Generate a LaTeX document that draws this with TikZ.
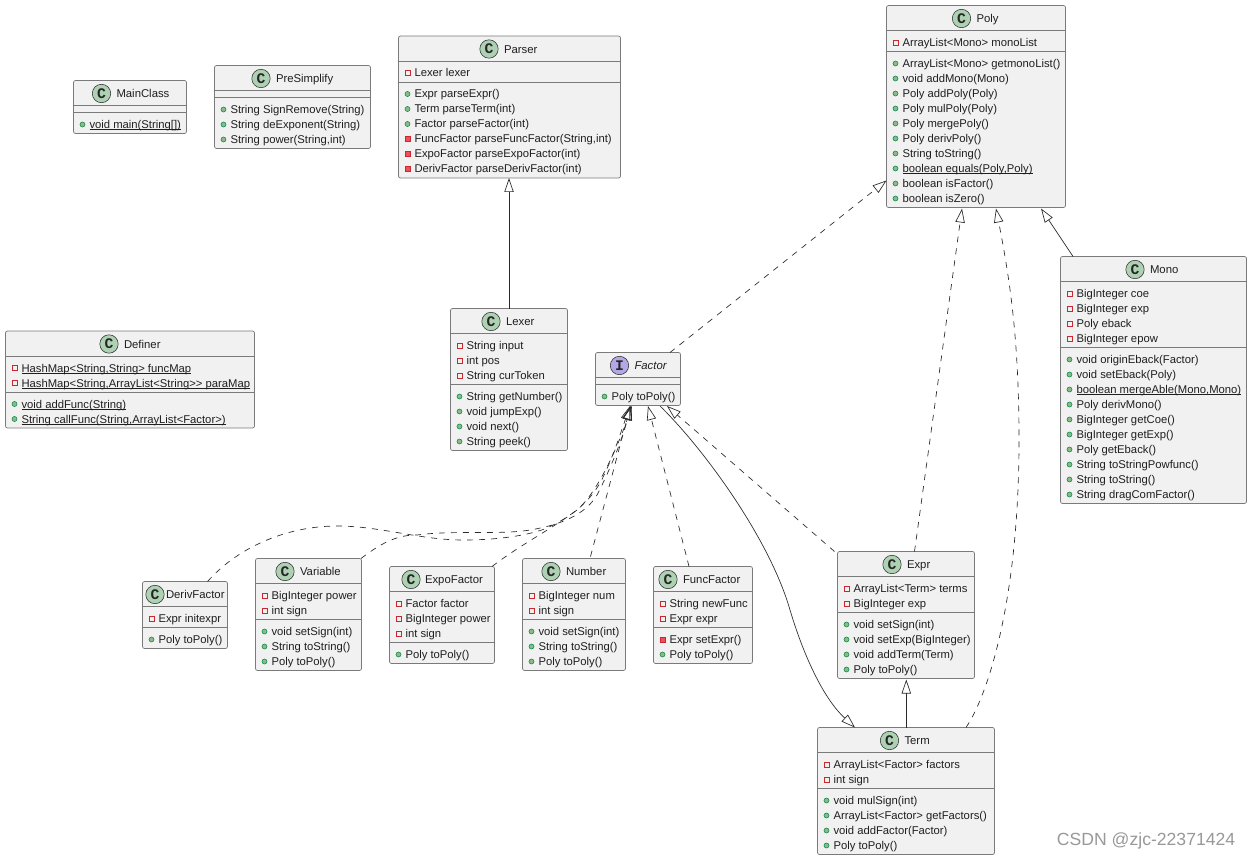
\documentclass[tikz,border=0pt]{standalone}
\usepackage{fontspec}
\setmainfont{Liberation Sans}
\newfontfamily\badgefont{Liberation Mono}
\usetikzlibrary{arrows.meta,calc}
\definecolor{boxfill}{HTML}{F1F1F1}
\definecolor{boxline}{HTML}{7A7A7A}
\definecolor{linkc}{HTML}{2A2A2A}
\definecolor{classc}{HTML}{ADD1B2}
\definecolor{ifacec}{HTML}{B4A7E5}
\definecolor{pubfill}{HTML}{84BE84}
\definecolor{publine}{HTML}{038048}
\definecolor{privc}{HTML}{C82930}
\definecolor{privfill}{HTML}{F24D5C}
\tikzset{
  umlbox/.style={draw=boxline,fill=boxfill,line width=0.55pt,rounded corners=1.5pt,inner sep=0pt,outer sep=0pt,anchor=north west},
  umlsep/.style={draw=boxline,line width=0.55pt},
  rowtext/.style={anchor=base west,inner sep=0pt,outer sep=0pt,font=\fontsize{8.45}{10}\selectfont,text=black!88},
  titletext/.style={anchor=base west,inner sep=0pt,outer sep=0pt,font=\fontsize{8.5}{10}\selectfont,text=black!88},
  badge/.style={circle,draw=linkc,line width=0.4pt,minimum size=13.8pt,inner sep=0pt,font=\badgefont\fontsize{11}{11}\selectfont\bfseries,text=black!85},
  pubm/.style={circle,draw=publine,fill=pubfill,line width=0.35pt,minimum size=3.8pt,inner sep=0pt},
  privf/.style={rectangle,draw=privc,fill=boxfill,line width=0.5pt,minimum size=3.6pt,inner sep=0pt},
  privm/.style={rectangle,draw=privc,fill=privfill,line width=0.5pt,minimum size=3.6pt,inner sep=0pt},
  link/.style={draw=linkc,line width=0.5pt},
  dashlink/.style={link,dash pattern=on 4.5pt off 4.5pt},
  hollow/.style={-{Triangle[open,length=10.5pt,width=7pt,line width=0.5pt]}},
}
\newcount\rowno
\newcommand\ulrow[1]{\setbox0=\hbox{#1}\leavevmode\rlap{\rule[-1.1pt]{\wd0}{0.4pt}}\box0 }
\def\titlegap{15}
\newcommand\umlclass[9]{%
  \pgfmathsetmacro\hA{#5>0?15*#5+6:7}%
  \pgfmathsetmacro\hB{#6>0?15*#6+6:7}%
  \pgfmathsetmacro\bw{#3-#2}%
  \pgfmathsetmacro\bh{25+\hA+\hB}%
  \xdef\curid{#1}\xdef\curx{#2}%
  \pgfmathsetmacro\yA{#4+25}%
  \pgfmathsetmacro\yB{#4+25+\hA}%
  \pgfmathsetmacro\yF{#4+25+12}%
  \pgfmathsetmacro\yM{\yB+12}%
  \xdef\fy{\yF}\xdef\my{\yM}%
  \global\rowno=0
  \node[umlbox,minimum width=\bw*0.75pt,minimum height=\bh*0.75pt] (#1) at (#2,#4) {};
  \draw[umlsep] (#2,\yA) -- (#3,\yA);
  \draw[umlsep] (#2,\yB) -- (#3,\yB);
  \pgfmathsetmacro\yC{#4+13}%
  \pgfmathsetmacro\yT{#4+17.3}%
  \pgfmathsetmacro\xT{#9+\titlegap}%
  \if#7C\def\badgecol{classc}\else\def\badgecol{ifacec}\fi
  \node[badge,fill=\badgecol] (#1-badge) at (#9,\yC) {#7};
  \node[titletext] (#1-title) at (\xT,\yT) {#8};
}
\newcommand\placerow[3]{% marker style, y macro, text
  \global\advance\rowno by 1
  \pgfmathsetmacro\xM{\curx+9}%
  \pgfmathsetmacro\xR{\curx+16}%
  \pgfmathsetmacro\yR{#2+4}%
  \node[#1] (\curid-m\the\rowno) at (\xM,#2) {};
  \node[rowtext] (\curid-t\the\rowno) at (\xR,\yR) {#3};
}
\newcommand\fld[1]{\placerow{privf}{\fy}{#1}\pgfmathsetmacro\tmpy{\fy+15}\xdef\fy{\tmpy}}
\newcommand\mth[1]{\placerow{pubm}{\my}{#1}\pgfmathsetmacro\tmpy{\my+15}\xdef\my{\tmpy}}
\newcommand\pmt[1]{\placerow{privm}{\my}{#1}\pgfmathsetmacro\tmpy{\my+15}\xdef\my{\tmpy}}
\begin{document}
\begin{tikzpicture}[x=0.75pt,y=-0.75pt]
\useasboundingbox (0,0) rectangle (1251,859);
\fill[white] (0,0) rectangle (1251,859);

\umlclass{mainclass}{73.5}{186.5}{80.5}{0}{1}{C}{MainClass}{101.5}
\mth{\ulrow{void main(String[])}}

\umlclass{presimplify}{214.5}{370.5}{65.5}{0}{3}{C}{PreSimplify}{261}
\mth{String SignRemove(String)}
\mth{String deExponent(String)}
\mth{String power(String,int)}

\umlclass{parser}{398.5}{620.5}{36}{1}{6}{C}{Parser}{489}
\fld{Lexer lexer}
\mth{Expr parseExpr()}
\mth{Term parseTerm(int)}
\mth{Factor parseFactor(int)}
\pmt{FuncFactor parseFuncFactor(String,int)}
\pmt{ExpoFactor parseExpoFactor(int)}
\pmt{DerivFactor parseDerivFactor(int)}

\umlclass{poly}{886.5}{1065.5}{5.5}{1}{10}{C}{Poly}{961.5}
\fld{ArrayList<Mono> monoList}
\mth{ArrayList<Mono> getmonoList()}
\mth{void addMono(Mono)}
\mth{Poly addPoly(Poly)}
\mth{Poly mulPoly(Poly)}
\mth{Poly mergePoly()}
\mth{Poly derivPoly()}
\mth{String toString()}
\mth{\ulrow{boolean equals(Poly,Poly)}}
\mth{boolean isFactor()}
\mth{boolean isZero()}

\umlclass{mono}{1060.5}{1246.5}{256.5}{4}{10}{C}{Mono}{1135}
\fld{BigInteger coe}
\fld{BigInteger exp}
\fld{Poly eback}
\fld{BigInteger epow}
\mth{void originEback(Factor)}
\mth{void setEback(Poly)}
\mth{\ulrow{boolean mergeAble(Mono,Mono)}}
\mth{Poly derivMono()}
\mth{BigInteger getCoe()}
\mth{BigInteger getExp()}
\mth{Poly getEback()}
\mth{String toStringPowfunc()}
\mth{String toString()}
\mth{String dragComFactor()}

\umlclass{definer}{5.5}{254.5}{331}{2}{2}{C}{Definer}{109}
\fld{\ulrow{HashMap<String,String> funcMap}}
\fld{\ulrow{HashMap<String,ArrayList<String>{}> paraMap}}
\mth{\ulrow{void addFunc(String)}}
\mth{\ulrow{String callFunc(String,ArrayList<Factor>)}}

\umlclass{lexer}{450.5}{567.5}{308.5}{3}{4}{C}{Lexer}{491}
\fld{String input}
\fld{int pos}
\fld{String curToken}
\mth{String getNumber()}
\mth{void jumpExp()}
\mth{void next()}
\mth{String peek()}

\umlclass{factor}{595.5}{680.5}{352.5}{0}{1}{I}{\itshape Factor}{619.5}
\mth{Poly toPoly()}

\def\titlegap{11}
\umlclass{derivfactor}{142.5}{227.5}{581.5}{1}{1}{C}{DerivFactor}{155}
\fld{Expr initexpr}
\mth{Poly toPoly()}
\def\titlegap{15}

\umlclass{variable}{255.5}{361.5}{558.5}{2}{3}{C}{Variable}{285}
\fld{BigInteger power}
\fld{int sign}
\mth{void setSign(int)}
\mth{String toString()}
\mth{Poly toPoly()}

\def\titlegap{14}
\umlclass{expofactor}{389.5}{494.5}{566.5}{3}{1}{C}{ExpoFactor}{411}
\fld{Factor factor}
\fld{BigInteger power}
\fld{int sign}
\mth{Poly toPoly()}
\def\titlegap{15}

\umlclass{number}{522.5}{625.5}{558.5}{2}{3}{C}{Number}{551}
\fld{BigInteger num}
\fld{int sign}
\mth{void setSign(int)}
\mth{String toString()}
\mth{Poly toPoly()}

\umlclass{funcfactor}{653.5}{752.5}{566.5}{2}{2}{C}{FuncFactor}{668}
\fld{String newFunc}
\fld{Expr expr}
\pmt{Expr setExpr()}
\mth{Poly toPoly()}

\umlclass{expr}{837.5}{974.5}{551.5}{2}{4}{C}{Expr}{892}
\fld{ArrayList<Term> terms}
\fld{BigInteger exp}
\mth{void setSign(int)}
\mth{void setExp(BigInteger)}
\mth{void addTerm(Term)}
\mth{Poly toPoly()}

\umlclass{term}{817.5}{994.5}{727.5}{2}{4}{C}{Term}{889.5}
\fld{ArrayList<Factor> factors}
\fld{int sign}
\mth{void mulSign(int)}
\mth{ArrayList<Factor> getFactors()}
\mth{void addFactor(Factor)}
\mth{Poly toPoly()}

% connectors
\draw[link,hollow] ($(lexer.north west)+(58.5,0)$) -- ($(parser.south west)+(110.5,0)$);
\draw[dashlink,hollow] ($(factor.north west)+(74.5,0)$) -- ($(poly.south west)+(0,-27)$);
\draw[dashlink,hollow] ($(expr.north west)+(77,0)$) -- ($(poly.south west)+(75.5,1)$);
\draw[dashlink,hollow] ($(term.north west)+(148.5,0)$) .. controls (988,695) and (1019,600) .. (1019,440) .. controls (1019,340) and (1010,280) .. ($(poly.south west)+(109.5,1)$);
\draw[link,hollow] ($(mono.north west)+(12.5,0)$) -- ($(poly.south west)+(154.5,1)$);
\draw[dashlink,hollow] ($(funcfactor.north west)+(35.5,0)$) -- ($(factor.south west)+(52.5,0.5)$);
\draw[dashlink,hollow] ($(number.north west)+(68,-2)$) -- ($(factor.south west)+(35,0.5)$);
\draw[dashlink,hollow] ($(expofactor.north west)+(102.5,0)$) .. controls (520,545) and (550,530) .. (577,510) .. controls (600,490) and (620,440) .. ($(factor.south west)+(36.5,0.5)$);
\draw[dashlink,hollow] ($(variable.north west)+(105.5,0)$) .. controls (385,540) and (400,535) .. (417,535) .. controls (455,530) and (500,535) .. (530,530) .. controls (560,525) and (585,515) .. (597,495) .. controls (610,470) and (622,440) .. ($(factor.south west)+(35.5,0.5)$);
\draw[dashlink,hollow] ($(derivfactor.north west)+(65,0)$) .. controls (240,545) and (290,526) .. (337,526) .. controls (380,526) and (420,540) .. (463,540) .. controls (500,540) and (530,535) .. (547,528) .. controls (575,515) and (590,500) .. (600,483) .. controls (610,465) and (620,435) .. ($(factor.south west)+(34.5,0.5)$);
\draw[dashlink,hollow] ($(expr.north west)+(-3,0)$) -- ($(factor.south east)+(-13.5,0.5)$);
\draw[link,hollow] ($(factor.south east)+(-20.5,0.5)$) .. controls (705,450) and (770,540) .. (790,610) .. controls (805,660) and (825,700) .. ($(term.north west)+(37.5,0)$);
\draw[link,hollow] ($(term.north west)+(88.8,0)$) -- ($(expr.south west)+(68.8,1)$);

\node[anchor=base east,inner sep=0pt,font=\fontsize{13.2}{15}\selectfont,text=black!40] (watermark) at (1235.5,845) {CSDN @zjc-22371424};
\end{tikzpicture}
\end{document}
